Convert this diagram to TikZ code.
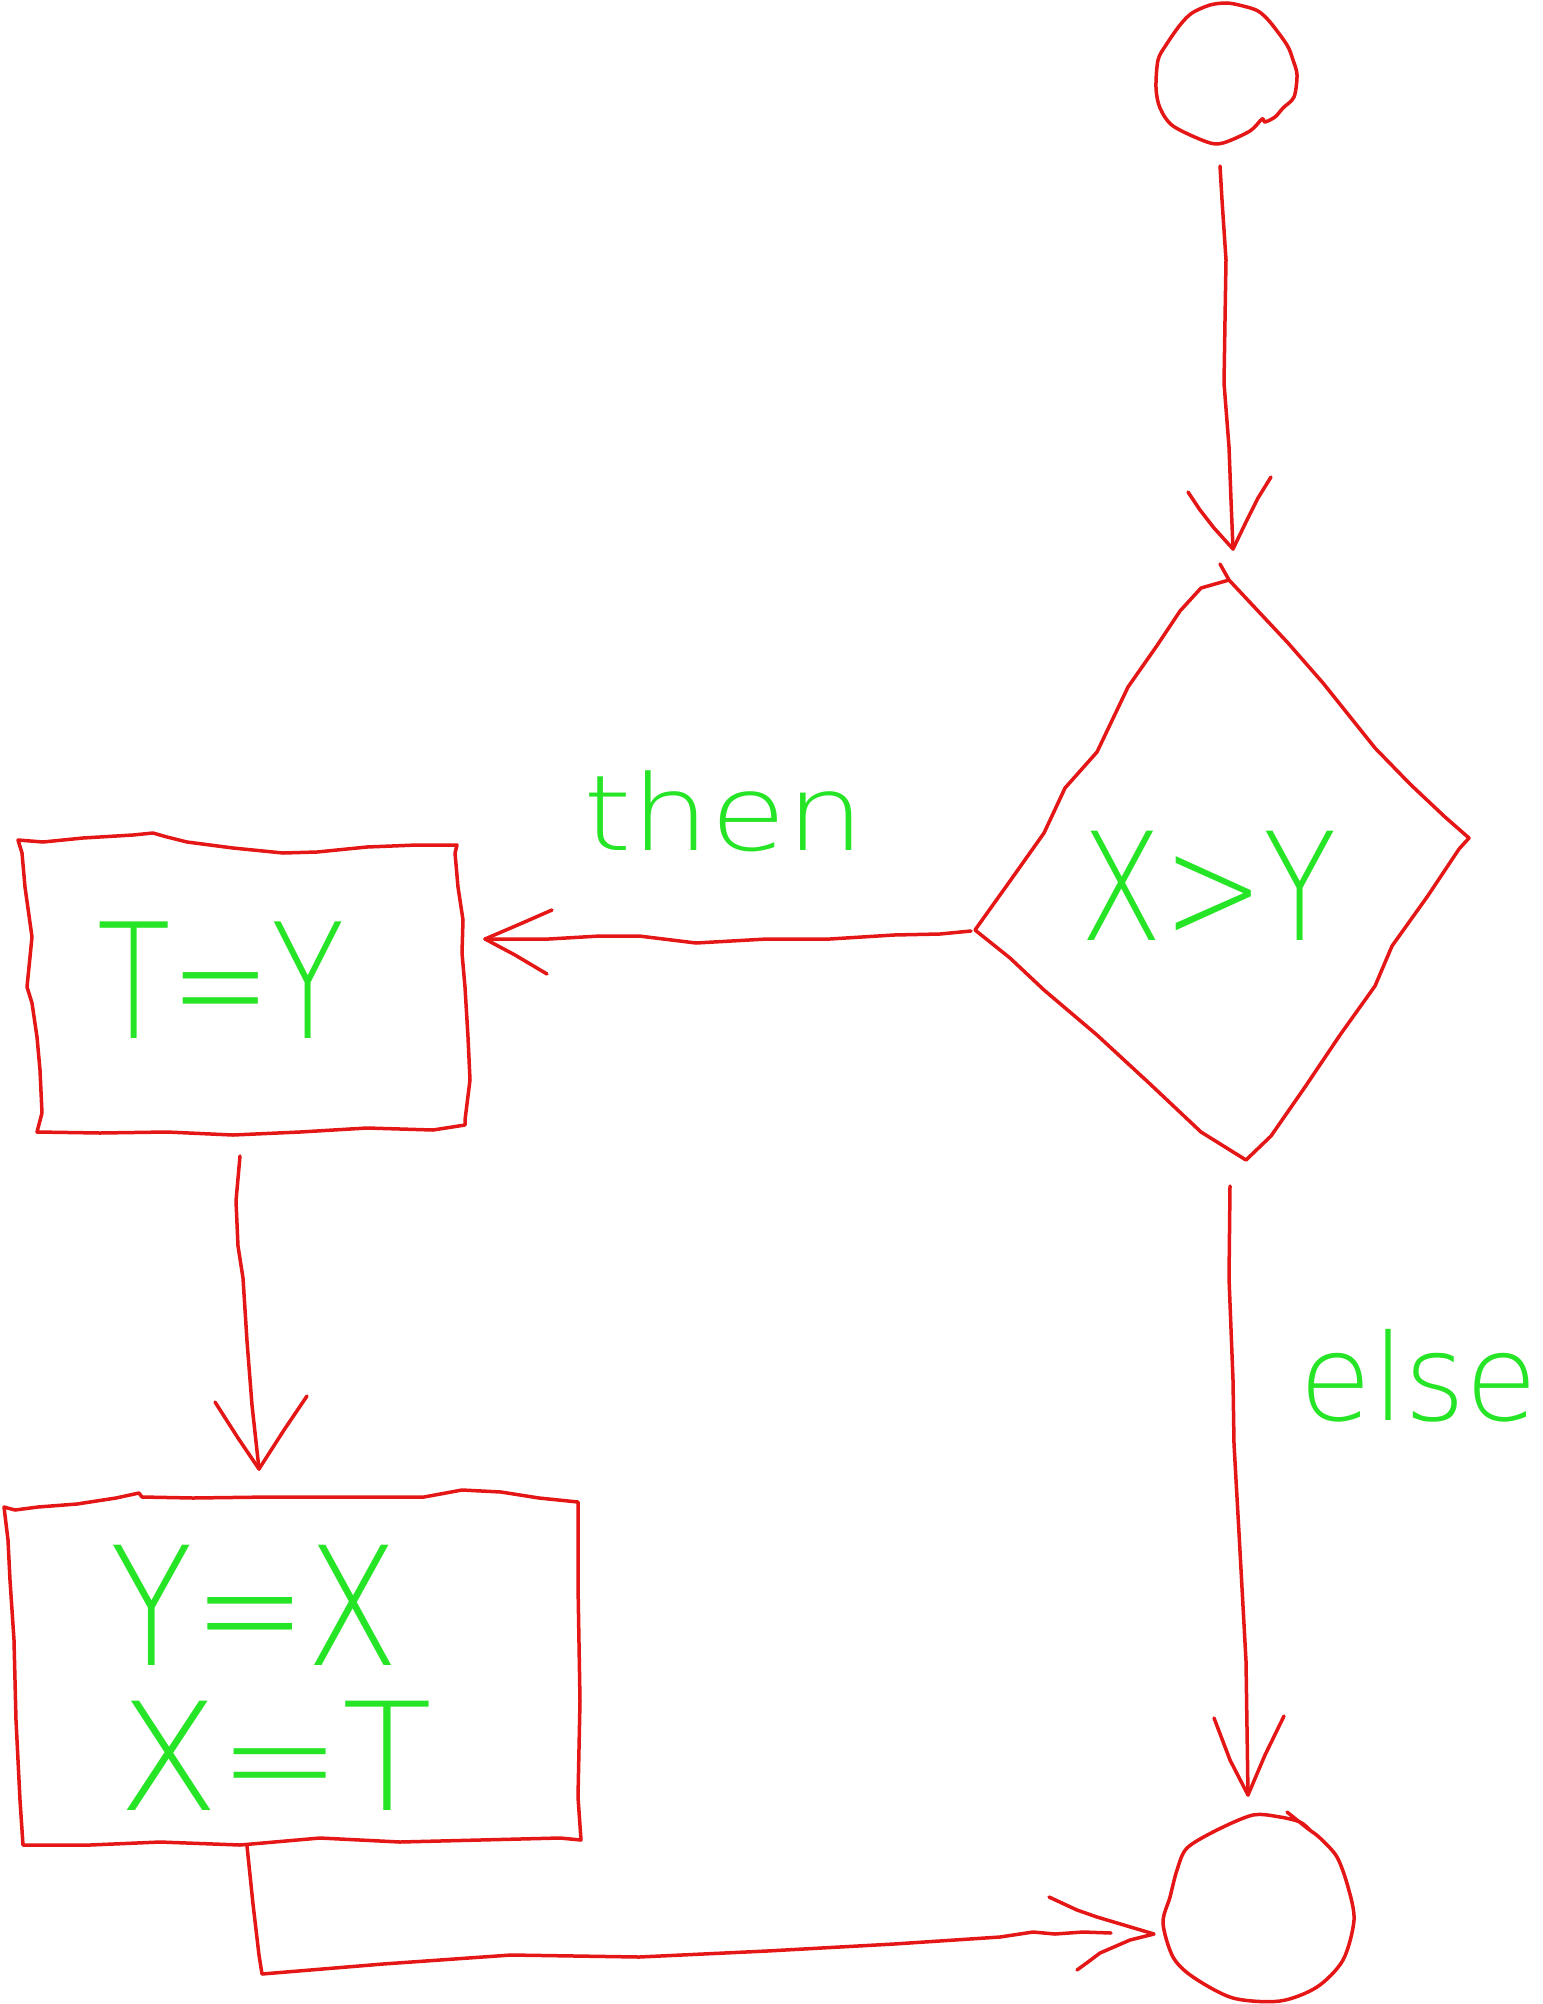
\documentclass[tikz,border=0pt]{standalone}
\usepackage{fontspec}
% thin sans face for the pen lettering (first weight that is available)
\IfFontExistsTF{DejaVu Sans ExtraLight}
  {\newfontfamily\handfont{DejaVu Sans ExtraLight}}
  {\IfFontExistsTF{DejaVuSans-ExtraLight.ttf}
    {\newfontfamily\handfont{DejaVuSans-ExtraLight.ttf}}
    {\IfFontExistsTF{Fira Sans Thin}
      {\newfontfamily\handfont{Fira Sans Thin}}
      {\IfFontExistsTF{Poppins Thin}
        {\newfontfamily\handfont{Poppins Thin}}
        {\IfFontExistsTF{Fira Sans Light}
          {\newfontfamily\handfont{Fira Sans Light}}
          {\newfontfamily\handfont{Fira Sans}}}}}}
% size and horizontal stretch of a lettering
\newcommand\penword[3]{{\handfont\fontsize{#1}{#1}\selectfont\scalebox{#2}[1]{#3}}}
\definecolor{ink}{RGB}{228,22,22}
\definecolor{chalk}{RGB}{38,228,38}
\begin{document}
\begin{tikzpicture}[x=1pt,y=-1pt,
  pen/.style={draw=ink, line width=3.5pt, line cap=round, line join=round},
  wire/.style={pen},
  tip/.style={pen},
  lettering/.style={text=chalk, inner sep=0pt, anchor=base},
]
\useasboundingbox (0,0) rectangle (1542,2004);

% ---- start circle ----
\draw[pen] plot[smooth cycle, tension=0.5] coordinates {
  (1227,3) (1243,6) (1258,11) (1270,22) (1287,45) (1293,60) (1297,75)
  (1294,97) (1283,108) (1275,117) (1265,122) (1262,119) (1250,131)
  (1223,143) (1207,142) (1173,126) (1160,108) (1156,88) (1158,60)
  (1166,45) (1180,25) (1192,13) (1210,5)};
\coordinate (start-out) at (1220,166);

% ---- decision diamond ----
\draw[pen] (1220,564) -- (1229,580);
\draw[pen] (1229,580) -- (1288,643) -- (1323,683) -- (1375,748) -- (1410,784)
  -- (1445,817) -- (1469,838) -- (1459,849) -- (1427,897) -- (1392,946)
  -- (1375,986) -- (1340,1035) -- (1305,1087) -- (1271,1136) -- (1246,1160)
  -- (1201,1132) -- (1149,1083) -- (1097,1035) -- (1044,990) -- (1010,958)
  -- (975,930) -- (1010,881) -- (1044,833) -- (1065,788) -- (1097,752)
  -- (1128,687) -- (1156,647) -- (1180,611) -- (1201,588) -- cycle;
\coordinate (cond-in) at (1233,549);
\coordinate (cond-left) at (971,931);
\coordinate (cond-bottom) at (1230,1186);
\node[lettering] (cond) at (1209,940) {\penword{150}{0.8}{X>Y}};

% ---- box T=Y ----
\draw[pen] (18,840) -- (43,842) -- (83,838) -- (133,835) -- (153,833)
  -- (167,837) -- (187,842) -- (233,848) -- (283,853) -- (317,852)
  -- (367,847) -- (417,845) -- (457,845) -- (455,853) -- (458,887)
  -- (463,920) -- (462,953) -- (465,987) -- (468,1037) -- (470,1080)
  -- (465,1120) -- (465,1125) -- (433,1130) -- (367,1128) -- (300,1132)
  -- (233,1135) -- (167,1132) -- (100,1133) -- (37,1132) -- (42,1113)
  -- (40,1070) -- (37,1037) -- (32,1003) -- (27,987) -- (32,937)
  -- (25,887) -- (22,853) -- cycle;
\coordinate (swap1-in) at (485,939);
\coordinate (swap1-out) at (240,1156);
\node[lettering] (swap1) at (221,1038) {\penword{160}{0.75}{T=Y}};

% ---- box Y=X / X=T ----
\draw[pen] (4,1507) -- (15,1510) -- (38,1507) -- (77,1504) -- (116,1498)
  -- (139,1493) -- (142,1497) -- (193,1498) -- (270,1497) -- (347,1497)
  -- (424,1497) -- (462,1490) -- (501,1492) -- (539,1498) -- (578,1502)
  -- (578,1585) -- (580,1701) -- (578,1797) -- (581,1840) -- (560,1838)
  -- (480,1840) -- (400,1842) -- (320,1838) -- (240,1845) -- (160,1842)
  -- (90,1845) -- (23,1845) -- (20,1800) -- (16,1720) -- (14,1640)
  -- (10,1580) -- (8,1540) -- cycle;
\coordinate (swap2-in) at (259,1469);
\coordinate (swap2-out) at (247,1846);
\node[lettering] (swap2a) at (255,1665) {\penword{165}{0.82}{Y=X}};
\node[lettering] (swap2b) at (275,1810) {\penword{150}{0.98}{X=T}};

% ---- end circle ----
\draw[pen] plot[smooth, tension=0.5] coordinates {
  (1287,1812) (1307,1828) (1320,1838) (1337,1857) (1348,1887) (1354,1920)
  (1343,1960) (1317,1987) (1280,2001) (1233,1998) (1193,1977) (1173,1957)
  (1163,1923) (1170,1897) (1177,1870) (1187,1848) (1217,1830) (1253,1815)
  (1280,1817) (1300,1822) (1310,1830)};
\coordinate (end-top) at (1248,1795);
\coordinate (end-left) at (1154,1934);
\coordinate (end-shaft) at (1111,1933);

% ---- connectors ----
% start -> decision
\draw[wire] (start-out) -- (1222,200) -- (1226,260) -- (1225,320) -- (1224,383)
  -- (1229,447) -- (1231,500) -- (cond-in);
\draw[tip] (1188,492) -- (1200,510) -- (1214,528) -- (cond-in) -- (1246,522)
  -- (1258,498) -- (1271,477);

% decision -> T=Y (then)
\draw[wire] (cond-left) -- (940,934) -- (894,935) -- (830,939) -- (767,939)
  -- (696,943) -- (639,936) -- (600,936) -- (549,939) -- (swap1-in);
\draw[tip] (552,910) -- (520,924) -- (swap1-in) -- (515,955) -- (547,974);
\node[lettering] (then) at (724,850) {\penword{105}{1.18}{then}};

% T=Y -> Y=X / X=T
\draw[wire] (swap1-out) -- (236,1201) -- (238,1246) -- (243,1278) -- (247,1341)
  -- (252,1405) -- (swap2-in);
\draw[tip] (215,1402) -- (238,1438) -- (swap2-in) -- (284,1430) -- (307,1396);

% decision -> end (else)
\draw[wire] (cond-bottom) -- (1229,1278) -- (1233,1380) -- (1234,1444)
  -- (1239,1533) -- (1246,1661) -- (end-top);
\draw[tip] (1214,1718) -- (1230,1760) -- (end-top) -- (1265,1755) -- (1284,1716);
\node[lettering] (else) at (1419,1420) {\penword{120}{0.98}{else}};

% Y=X / X=T -> end
\draw[wire] (swap2-out) -- (253,1904) -- (259,1955) -- (262,1974) -- (383,1964)
  -- (511,1955) -- (639,1957) -- (767,1951) -- (894,1944) -- (1000,1937)
  -- (1033,1932) -- (1055,1934) -- (1083,1932) -- (end-shaft);
\draw[tip] (1049,1897) -- (1077,1910) -- (1097,1917) -- (end-left) -- (1130,1940)
  -- (1100,1953) -- (1088,1962) -- (1077,1970);
\end{tikzpicture}
\end{document}
